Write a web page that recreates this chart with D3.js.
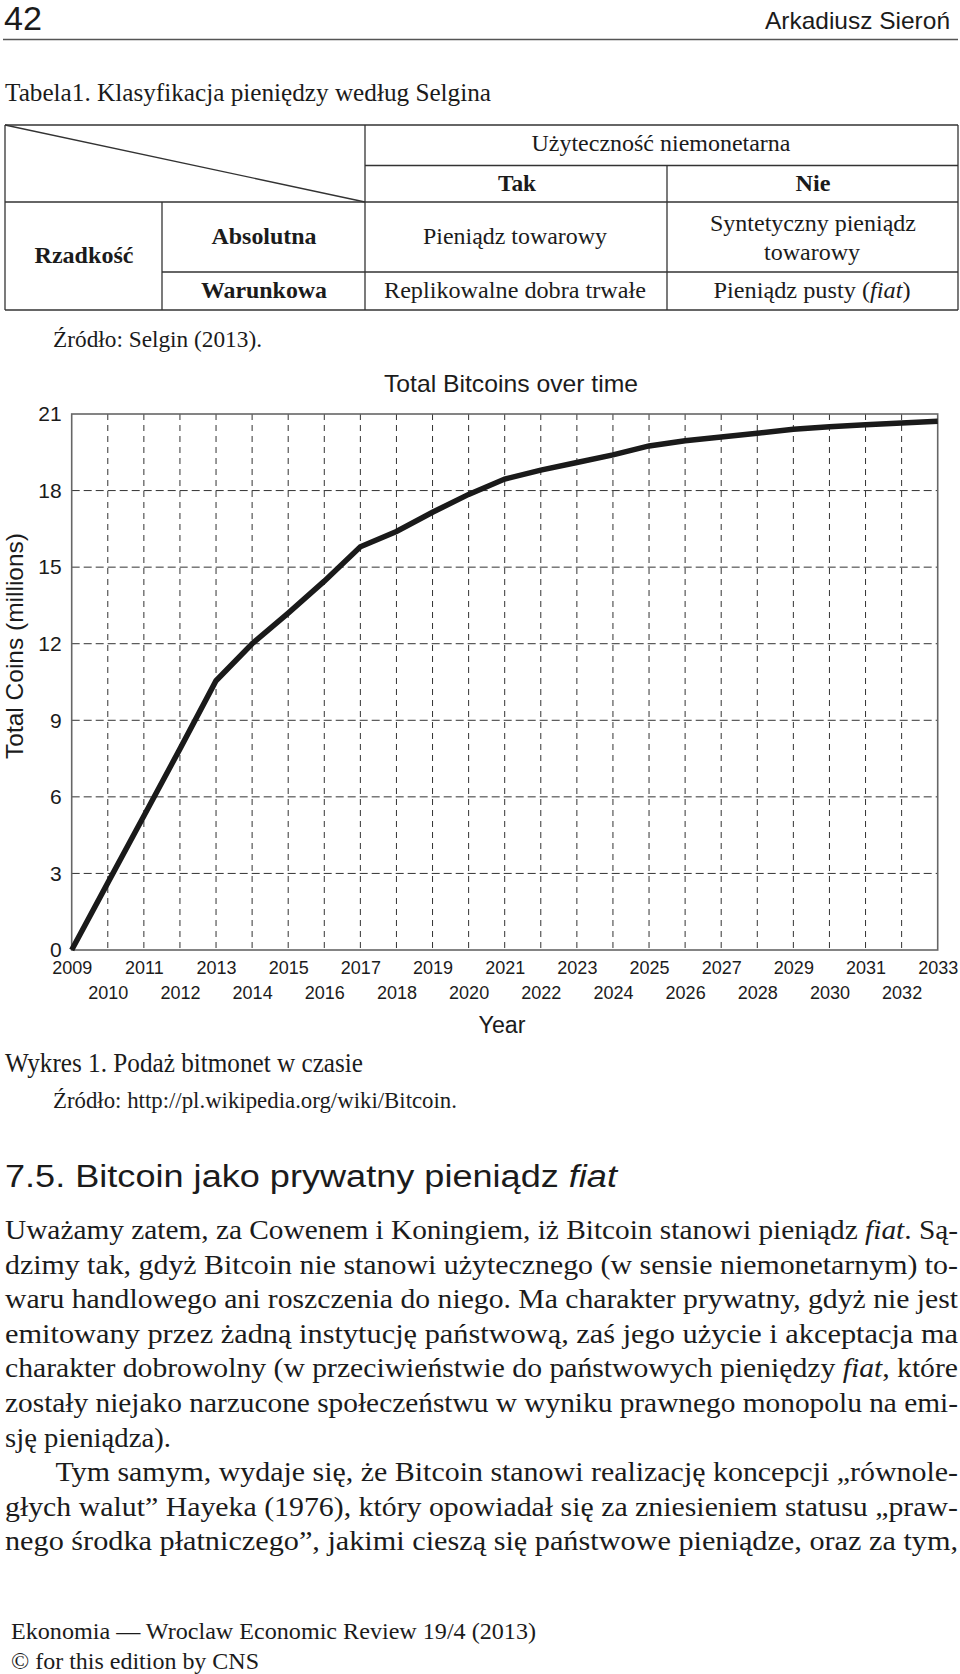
<!DOCTYPE html>
<html lang="pl">
<head>
<meta charset="UTF-8">
<title>Total Bitcoins over time</title>
<script src="https://cdn.jsdelivr.net/npm/d3@7"></script>
<style>
  body { margin: 0; background: #fff; }
  svg { display: block; }
  .serif { font-family: "Liberation Serif", "Times New Roman", serif; fill: #1b1b1b; }
  .sans { font-family: "Liberation Sans", Arial, sans-serif; fill: #1b1b1b; }
  .grid line { stroke: #333; stroke-width: 1; }
  .rule { stroke: #333; stroke-width: 1.3; }
</style>
</head>
<body>
<svg width="960" height="1674"></svg>
<script>
// chart data
const years = [2009, 2010, 2011, 2012, 2013, 2014, 2015, 2016, 2017, 2018, 2019, 2020, 2021,
               2022, 2023, 2024, 2025, 2026, 2027, 2028, 2029, 2030, 2031, 2032, 2033];
const coins = [0, 2.63, 5.25, 7.88, 10.55, 12.0, 13.2, 14.45, 15.8, 16.4, 17.15, 17.85, 18.45,
               18.8, 19.1, 19.4, 19.75, 19.95, 20.1, 20.25, 20.4, 20.5, 20.58, 20.65, 20.72];
const yTicks = [0, 3, 6, 9, 12, 15, 18, 21];

// page text
const tableHeader = ["Użyteczność niemonetarna", "Tak", "Nie"];
const tableRowLabels = ["Rzadkość", "Absolutna", "Warunkowa"];
const tableCells = ["Pieniądz towarowy", "Syntetyczny pieniądz", "towarowy",
                    "Replikowalne dobra trwałe", "Pieniądz pusty (*fiat*)"];
const bodyLines = [
  "Uważamy zatem, za Cowenem i Koningiem, iż Bitcoin stanowi pieniądz *fiat*. Są-",
  "dzimy tak, gdyż Bitcoin nie stanowi użytecznego (w sensie niemonetarnym) to-",
  "waru handlowego ani roszczenia do niego. Ma charakter prywatny, gdyż nie jest",
  "emitowany przez żadną instytucję państwową, zaś jego użycie i akceptacja ma",
  "charakter dobrowolny (w przeciwieństwie do państwowych pieniędzy *fiat*, które",
  "zostały niejako narzucone społeczeństwu w wyniku prawnego monopolu na emi-",
  "sję pieniądza).",
  "Tym samym, wydaje się, że Bitcoin stanowi realizację koncepcji „równole-",
  "głych walut” Hayeka (1976), który opowiadał się za zniesieniem statusu „praw-",
  "nego środka płatniczego”, jakimi cieszą się państwowe pieniądze, oraz za tym,"
];

const svg = d3.select("svg");

// text helper: parts between * are italic
function txt(g, o) {
  const t = g.append("text")
    .attr("class", o.cls || "serif")
    .attr("x", o.x).attr("y", o.y)
    .attr("text-anchor", o.anchor || "start")
    .style("font-size", o.size + "px")
    .style("font-weight", o.bold ? "bold" : null);
  String(o.text).split("*").forEach((part, i) => {
    if (part) t.append("tspan").style("font-style", i % 2 ? "italic" : null).text(part);
  });
  if (o.w) t.attr("textLength", o.w).attr("lengthAdjust", "spacingAndGlyphs");
  return t;
}

// ---- page header ----
const page = svg.append("g");
txt(page, {cls: "sans", x: 4, y: 30, size: 34, text: "42", w: 38});
txt(page, {cls: "sans", x: 950, y: 29, size: 24, text: "Arkadiusz Sieroń", anchor: "end", w: 185});
page.append("line").attr("x1", 3).attr("x2", 958).attr("y1", 39.5).attr("y2", 39.5)
  .attr("stroke", "#555").attr("stroke-width", 1.5);

txt(page, {x: 5, y: 101, size: 26, text: "Tabela1. Klasyfikacja pieniędzy według Selgina", w: 486});

// ---- table ----
const tb = page.append("g");
const seg = (x1, y1, x2, y2) => tb.append("line").attr("class", "rule")
  .attr("x1", x1).attr("y1", y1).attr("x2", x2).attr("y2", y2);
seg(5, 125, 958, 125);
seg(365, 165.5, 958, 165.5);
seg(5, 202, 958, 202);
seg(162, 272, 958, 272);
seg(5, 310, 958, 310);
seg(5, 125, 5, 310);
seg(162, 202, 162, 310);
seg(365, 125, 365, 310);
seg(667, 165.5, 667, 310);
seg(958, 125, 958, 310);
seg(5, 125, 365, 202);

const ts = 23;
txt(tb, {x: 661, y: 151, size: ts, anchor: "middle", text: tableHeader[0], w: 259});
txt(tb, {x: 517, y: 191, size: ts, anchor: "middle", bold: true, text: tableHeader[1], w: 38});
txt(tb, {x: 813, y: 191, size: ts, anchor: "middle", bold: true, text: tableHeader[2], w: 35});
txt(tb, {x: 84, y: 263, size: ts, anchor: "middle", bold: true, text: tableRowLabels[0], w: 99});
txt(tb, {x: 264, y: 244, size: ts, anchor: "middle", bold: true, text: tableRowLabels[1], w: 105});
txt(tb, {x: 264, y: 298, size: ts, anchor: "middle", bold: true, text: tableRowLabels[2], w: 126});
txt(tb, {x: 515, y: 244, size: ts, anchor: "middle", text: tableCells[0], w: 184});
txt(tb, {x: 813, y: 231, size: ts, anchor: "middle", text: tableCells[1], w: 206});
txt(tb, {x: 812, y: 260, size: ts, anchor: "middle", text: tableCells[2], w: 96});
txt(tb, {x: 515, y: 298, size: ts, anchor: "middle", text: tableCells[3], w: 262});
txt(tb, {x: 812, y: 298, size: ts, anchor: "middle", text: tableCells[4], w: 197});

txt(page, {x: 53, y: 347, size: 23, text: "Źródło: Selgin (2013).", w: 209});

// ---- chart ----
const m = {left: 71.7, right: 937.7, top: 414, bottom: 950};
const x = d3.scaleLinear().domain([2009, 2033]).range([m.left, m.right]);
const y = d3.scaleLinear().domain([0, 21]).range([m.bottom, m.top]);
const chart = svg.append("g");

chart.append("g").attr("class", "grid")
  .selectAll("line").data(years.slice(1, -1)).join("line")
  .attr("x1", d => x(d)).attr("x2", d => x(d))
  .attr("y1", m.top).attr("y2", m.bottom)
  .attr("stroke-dasharray", "6,5");
chart.append("g").attr("class", "grid")
  .selectAll("line").data(yTicks.slice(1, -1)).join("line")
  .attr("x1", m.left).attr("x2", m.right)
  .attr("y1", d => y(d)).attr("y2", d => y(d))
  .attr("stroke-dasharray", "8,4");

chart.append("rect")
  .attr("x", m.left).attr("y", m.top)
  .attr("width", m.right - m.left).attr("height", m.bottom - m.top)
  .attr("fill", "none").attr("stroke", "#666").attr("stroke-width", 1.6);

const line = d3.line().x(d => x(d[0])).y(d => y(d[1]));
chart.append("path")
  .datum(years.map((d, i) => [d, coins[i]]))
  .attr("d", line)
  .attr("fill", "none").attr("stroke", "#1a1a1a").attr("stroke-width", 5.5)
  .attr("stroke-linejoin", "miter");

const yAxis = chart.append("g")
  .attr("transform", `translate(${m.left},0)`)
  .call(d3.axisLeft(y).tickValues(yTicks).tickSize(0).tickPadding(10));
yAxis.select(".domain").remove();
yAxis.attr("font-family", null).attr("font-size", null);
yAxis.selectAll("text").attr("class", "sans").style("font-size", "21px").attr("fill", null);

const xAxis = chart.append("g")
  .attr("transform", `translate(0,${m.bottom})`)
  .call(d3.axisBottom(x).tickValues(years).tickFormat(d3.format("d")).tickSize(0));
xAxis.select(".domain").remove();
xAxis.attr("font-family", null).attr("font-size", null);
xAxis.selectAll("text").attr("class", "sans").style("font-size", "18px").attr("fill", null)
  .attr("dy", null)
  .attr("y", d => d % 2 ? 24 : 49);

txt(chart, {cls: "sans", x: 511, y: 392, size: 24, anchor: "middle", text: "Total Bitcoins over time", w: 254});
txt(chart, {cls: "sans", x: 502, y: 1033, size: 23, anchor: "middle", text: "Year", w: 47});
txt(chart, {cls: "sans", x: 0, y: 0, size: 24, anchor: "middle", text: "Total Coins (millions)", w: 226})
  .attr("transform", "translate(23,646) rotate(-90)");

// ---- captions and body ----
txt(page, {x: 5, y: 1072, size: 27, text: "Wykres 1. Podaż bitmonet w czasie", w: 358});
txt(page, {x: 53, y: 1108, size: 23, text: "Źródło: http://pl.wikipedia.org/wiki/Bitcoin.", w: 404});
txt(page, {cls: "sans", x: 5, y: 1187, size: 31, text: "7.5. Bitcoin jako prywatny pieniądz *fiat*", w: 612});

bodyLines.forEach((s, i) => {
  const indent = i === 7 ? 55.5 : 5;
  const last = i === 6;
  txt(page, {x: indent, y: 1239 + i * 34.6, size: 28, text: s, w: last ? 166 : 958 - indent});
});

txt(page, {x: 11, y: 1639, size: 24, text: "Ekonomia — Wroclaw Economic Review 19/4 (2013)", w: 525});
txt(page, {x: 11, y: 1669, size: 24, text: "© for this edition by CNS", w: 248});
</script>
</body>
</html>
